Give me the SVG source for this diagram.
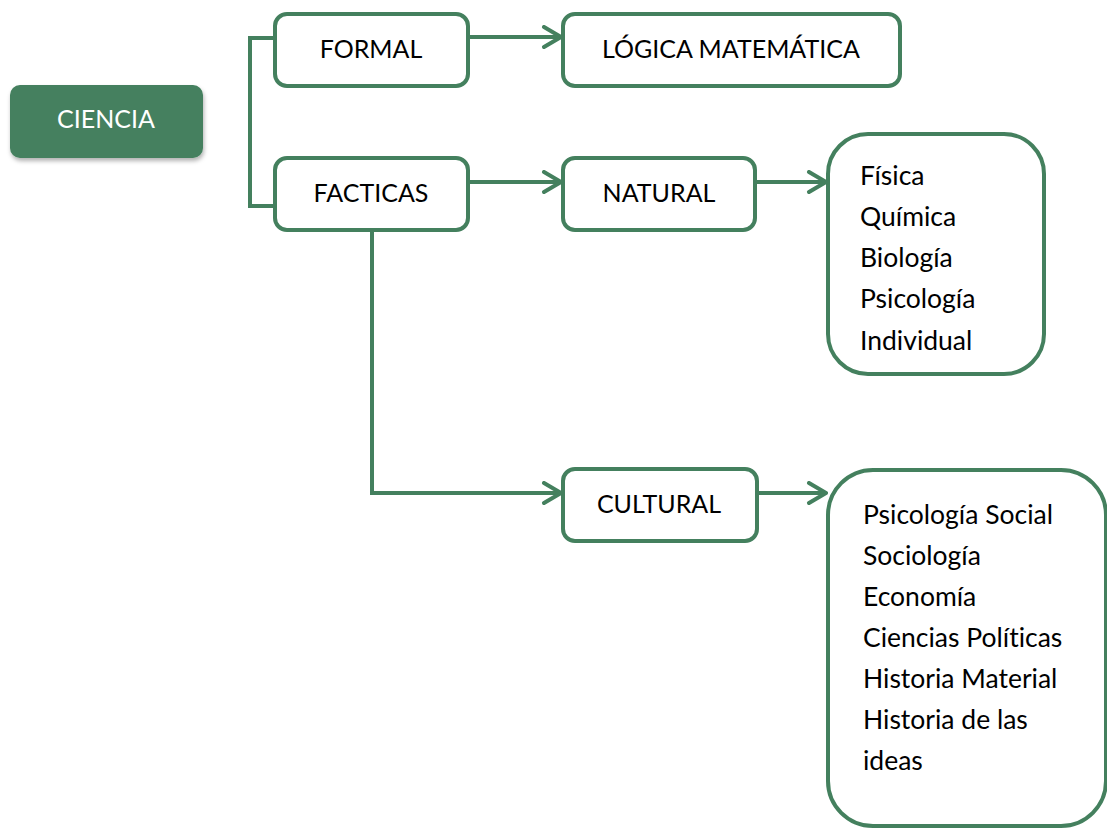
<svg xmlns="http://www.w3.org/2000/svg" width="1107" height="828" viewBox="0 0 1107 828">
<defs>
<style>
.box{fill:#fff;stroke:#44805E;stroke-width:4}
.t{font-family:Lato,"Liberation Sans",sans-serif;font-size:25px;fill:#000;font-variant-ligatures:none}
.l{font-size:26.5px}
.c{text-anchor:middle}
.w{fill:#fff}
.con{fill:none;stroke:#44805E;stroke-width:4}
</style>
<marker id="arr" viewBox="0 0 22 24" refX="20" refY="12" markerWidth="22" markerHeight="24" markerUnits="userSpaceOnUse" orient="auto">
<path d="M3,2 L20,12 L3,22" fill="none" stroke="#44805E" stroke-width="4" stroke-linecap="round" stroke-linejoin="round"/>
</marker>
<filter id="sh" x="-10%" y="-10%" width="130%" height="140%">
<feDropShadow dx="1" dy="3" stdDeviation="2" flood-color="#000" flood-opacity="0.3"/>
</filter>
</defs>
<rect width="1107" height="828" fill="#fff"/>
<g id="connectors">
<path class="con" d="M273,38 H250 V206 H273"/>
<path class="con" d="M468,37 H561" marker-end="url(#arr)"/>
<path class="con" d="M468,182 H561" marker-end="url(#arr)"/>
<path class="con" d="M755,182 H826" marker-end="url(#arr)"/>
<path class="con" d="M372,230 V493 H561" marker-end="url(#arr)"/>
<path class="con" d="M757,493 H826" marker-end="url(#arr)"/>
</g>
<g id="ciencia">
<rect x="10" y="85" width="193" height="73" rx="10" fill="#44805E" filter="url(#sh)"/>
<text class="t c w" x="106" y="128">CIENCIA</text>
</g>
<g id="formal">
<rect class="box" x="275" y="14" width="193" height="72" rx="12"/>
<text class="t c" x="371" y="58">FORMAL</text>
</g>
<g id="facticas">
<rect class="box" x="275" y="158" width="193" height="72" rx="12"/>
<text class="t c" x="371" y="202">FACTICAS</text>
</g>
<g id="logica">
<rect class="box" x="563" y="14" width="337" height="72" rx="12"/>
<text class="t c" x="731" y="58">LÓGICA MATEMÁTICA</text>
</g>
<g id="natural">
<rect class="box" x="563" y="158" width="192" height="72" rx="12"/>
<text class="t c" x="659" y="202">NATURAL</text>
</g>
<g id="cultural">
<rect class="box" x="563" y="469" width="194" height="72" rx="12"/>
<text class="t c" x="659" y="513">CULTURAL</text>
</g>
<g id="natural-list">
<rect class="box" x="828" y="134" width="216" height="240" rx="40"/>
<text class="t l" x="860" y="185">Física</text>
<text class="t l" x="860" y="226">Química</text>
<text class="t l" x="860" y="267">Biología</text>
<text class="t l" x="860" y="308">Psicología</text>
<text class="t l" x="860" y="350">Individual</text>
</g>
<g id="cultural-list">
<rect class="box" x="828" y="470" width="278" height="356" rx="45"/>
<text class="t l" x="863" y="524">Psicología Social</text>
<text class="t l" x="863" y="565">Sociología</text>
<text class="t l" x="863" y="606">Economía</text>
<text class="t l" x="863" y="647">Ciencias Políticas</text>
<text class="t l" x="863" y="688">Historia Material</text>
<text class="t l" x="863" y="729">Historia de las</text>
<text class="t l" x="863" y="770">ideas</text>
</g>
</svg>
